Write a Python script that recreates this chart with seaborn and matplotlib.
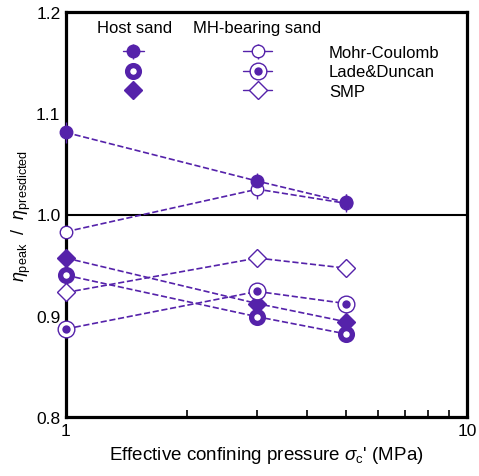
import numpy as np
import pandas as pd
import seaborn as sns
import matplotlib
matplotlib.use("Agg")
import matplotlib.pyplot as plt
from matplotlib.lines import Line2D
from matplotlib.container import ErrorbarContainer
from matplotlib.collections import LineCollection
from matplotlib.legend_handler import HandlerErrorbar, HandlerTuple

# ---- data ----
pressure = [1, 3, 5]
host_mc = [1.081, 1.033, 1.012]
host_mc_err = [0.010, 0.008, 0.008]
mh_mc = [0.983, 1.025, 1.011]
mh_mc_err = [0.0, 0.010, 0.009]
host_ld = [0.940, 0.899, 0.882]
mh_ld = [0.887, 0.924, 0.912]
host_smp = [0.957, 0.912, 0.894]
mh_smp = [0.923, 0.957, 0.947]
criteria = ["Mohr-Coulomb", "Lade&Duncan", "SMP"]
headings = ["Host sand", "MH-bearing sand"]

sns.set_theme(style="white")
plt.rcParams["font.family"] = ["Liberation Sans", "DejaVu Sans"]
plt.rcParams["mathtext.fontset"] = "custom"
plt.rcParams["mathtext.rm"] = "Liberation Sans"
plt.rcParams["mathtext.it"] = "Liberation Sans:italic"

C = "#5522aa"
LW = 1.2
DASH = (4, 1.4)

fig = plt.figure(figsize=(4.79, 4.77), dpi=100)
ax = fig.add_axes([66 / 479, 1 - 418 / 477, 401 / 479, 405 / 477])
ax.set_xscale("log")
ax.set_xlim(1, 10)
ax.set_ylim(0.8, 1.2)

ax.axhline(1.0, color="black", lw=1.5, zorder=2)

def series(y, **mk):
    df = pd.DataFrame({"p": pressure, "v": y})
    sns.lineplot(data=df, x="p", y="v", ax=ax, color=C, lw=LW,
                 linestyle="--", dashes=DASH, errorbar=None, sort=False,
                 clip_on=False, zorder=4, legend=False, **mk)

def markers(y, **mk):
    df = pd.DataFrame({"p": pressure, "v": y})
    sns.lineplot(data=df, x="p", y="v", ax=ax, color=C, linestyle="",
                 errorbar=None, sort=False, clip_on=False, zorder=5,
                 legend=False, **mk)

# error bars
ax.errorbar(pressure, host_mc, yerr=host_mc_err, fmt="none", ecolor=C,
            elinewidth=1, clip_on=False, zorder=4)
ax.errorbar(pressure, mh_mc, yerr=mh_mc_err, fmt="none", ecolor=C,
            elinewidth=1, clip_on=False, zorder=4)

mk_host_mc = dict(marker="o", markersize=9, markerfacecolor=C,
                  markeredgecolor=C, markeredgewidth=1)
mk_mh_mc = dict(marker="o", markersize=9, markerfacecolor="white",
                markeredgecolor=C, markeredgewidth=1)
mk_host_ld = dict(marker="o", markersize=8.5, markerfacecolor="white",
                  markeredgecolor=C, markeredgewidth=3.8)
mk_mh_ld = dict(marker="o", markersize=12, markerfacecolor="white",
                markeredgecolor=C, markeredgewidth=1)
mk_mh_ld_dot = dict(marker="o", markersize=6, markerfacecolor=C,
                    markeredgecolor=C, markeredgewidth=0)
mk_host_smp = dict(marker="D", markersize=9.5, markerfacecolor=C,
                   markeredgecolor=C, markeredgewidth=1)
mk_mh_smp = dict(marker="D", markersize=9.5, markerfacecolor="white",
                 markeredgecolor=C, markeredgewidth=1)

series(host_smp, **mk_host_smp)
series(mh_smp, **mk_mh_smp)
series(host_ld, **mk_host_ld)
series(mh_ld, **mk_mh_ld)
markers(mh_ld, **mk_mh_ld_dot)
series(mh_mc, **mk_mh_mc)
series(host_mc, **mk_host_mc)

# ---- axes styling ----
for s in ax.spines.values():
    s.set_visible(True)
    s.set_color("black")
    s.set_linewidth(2.3)
ax.set_yticks([0.8, 0.9, 1.0, 1.1, 1.2])
ax.set_yticklabels(["0.8", "0.9", "1.0", "1.1", "1.2"])
ax.set_xticks([1, 10])
ax.set_xticklabels(["1", "10"])
ax.tick_params(axis="y", which="both", length=0, labelsize=12.5, pad=4,
               colors="black")
ax.tick_params(axis="x", which="major", length=0, labelsize=12.5, pad=4,
               colors="black")
ax.tick_params(axis="x", which="minor", direction="in", length=5,
               width=1.2, color="black", top=False, bottom=True)
ax.xaxis.set_minor_formatter(matplotlib.ticker.NullFormatter())
ax.grid(False)

ax.set_xlabel(r"Effective confining pressure $\sigma_{\mathrm{c}}$' (MPa)",
              fontsize=13.5, labelpad=5, color="black")
ax.set_ylabel(r"$\eta_{\mathrm{peak}}$  /  $\eta_{\mathrm{presdicted}}$",
              fontsize=13, labelpad=2, color="black")

# ---- legend ----
def handle(mk):
    return Line2D([], [], color=C, lw=1, linestyle="-", **mk)

def eb_handle(mk):
    ln = handle(mk)
    vc = LineCollection([], colors=C, linewidths=1)
    return ErrorbarContainer((ln, (), (vc,)), has_xerr=False, has_yerr=True)

host_handles = [eb_handle(mk_host_mc),
                Line2D([], [], color=C, lw=0, **mk_host_ld),
                Line2D([], [], color=C, lw=0, **mk_host_smp)]
mh_handles = [eb_handle(mk_mh_mc),
              (handle(mk_mh_ld), Line2D([], [], lw=0, **mk_mh_ld_dot)),
              handle(mk_mh_smp)]

hmap = {ErrorbarContainer: HandlerErrorbar(yerr_size=0.45),
        tuple: HandlerTuple(ndivide=1)}

fs = 12
leg1 = ax.legend(host_handles, ["", "", ""], loc="center left",
                 bbox_to_anchor=((123 - 66) / 401, (418 - 73) / 405),
                 frameon=False, fontsize=fs, handlelength=1.25,
                 handletextpad=0, borderpad=0, borderaxespad=0,
                 labelspacing=0.26, handler_map=hmap)
ax.add_artist(leg1)
leg2 = ax.legend(mh_handles, criteria, loc="center left",
                 bbox_to_anchor=((243 - 66) / 401, (418 - 73) / 405),
                 frameon=False, fontsize=fs, handlelength=1.75,
                 handletextpad=3.4, borderpad=0, borderaxespad=0,
                 labelspacing=0.26, handler_map=hmap)
for t in leg2.get_texts():
    t.set_color("black")

ax.text((135 - 66) / 401, (418 - 29) / 405, headings[0], transform=ax.transAxes,
        ha="center", va="center", fontsize=fs, color="black")
ax.text((257 - 66) / 401, (418 - 29) / 405, headings[1], transform=ax.transAxes,
        ha="center", va="center", fontsize=fs, color="black")

fig.savefig("out.png", dpi=100)
